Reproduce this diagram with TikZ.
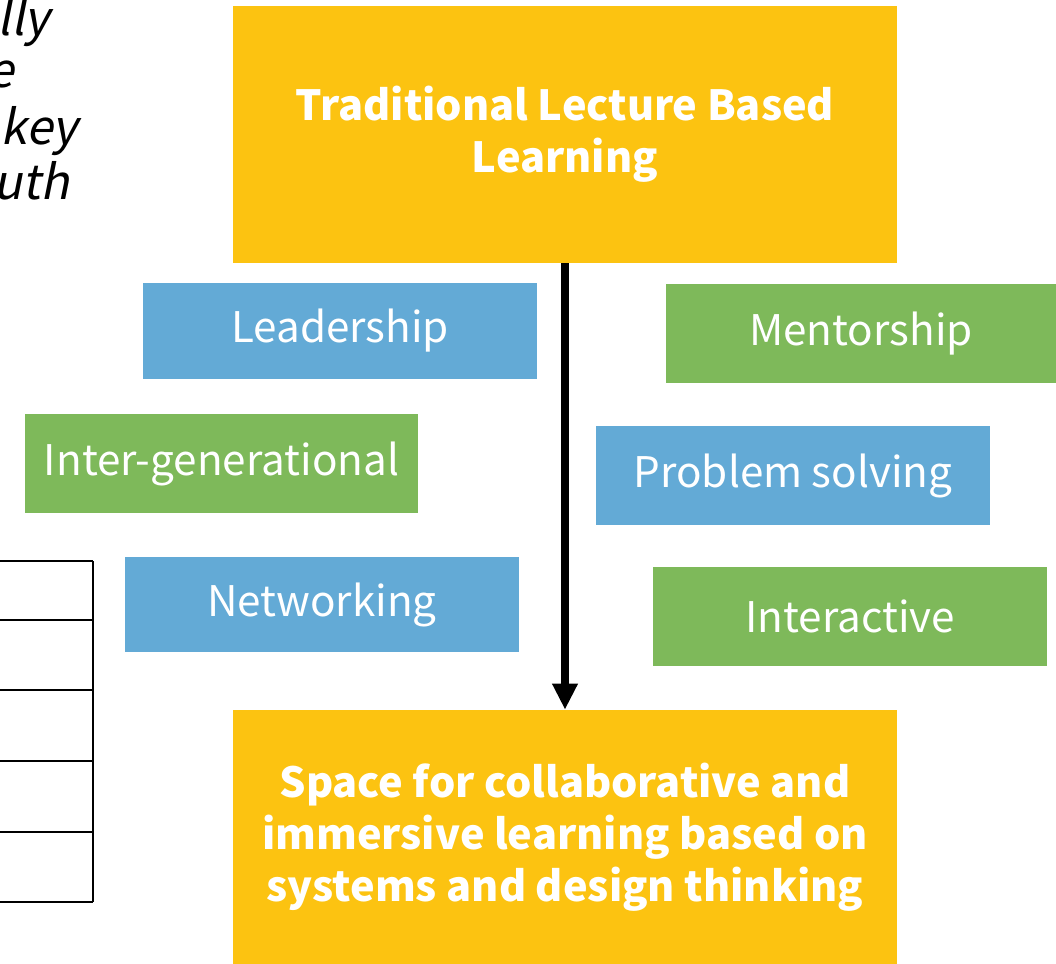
\documentclass[tikz,border=0pt]{standalone}
\usepackage{fontspec}
\setmainfont{Noto Sans CJK JP}
\newfontfamily\slantfont[FakeSlant=0.2]{Noto Sans CJK JP}
\usetikzlibrary{arrows.meta}
\definecolor{boxyellow}{RGB}{252,195,17}
\definecolor{boxblue}{RGB}{99,170,214}
\definecolor{boxgreen}{RGB}{126,185,90}
\tikzset{x=0.025cm, y=-0.025cm,
size/.style 2 args={ % box size in pixels
minimum width=#1*0.025cm,
minimum height=#2*0.025cm},
main/.style={ % the two yellow boxes
fill=boxyellow,
text=white,
align=center,
inner sep=0pt,
font=\fontsize{29.5}{37}\selectfont\bfseries},
tag/.style={ % blue and green labels
inner sep=0pt,
text=white,
font=\fontsize{30}{35}\selectfont},
note/.style={
anchor=base east,
inner sep=0pt,
font=\fontsize{34}{40}\selectfont\slantfont},
flow/.style={
-{Triangle[width=0.6cm,length=0.65cm]},
line width=5pt}}

\begin{document}
\begin{tikzpicture}
\useasboundingbox (0,0) rectangle (1056,964);
\clip (0,0) rectangle (1056,964);
% cut-off text on the left
\node[note] (n1) at (50,36) {lly};
\node[note] (n2) at (14,88) {e};
\node[note] (n3) at (78,145) {key};
\node[note] (n4) at (70,200) {uth};
% cut-off table on the left
\foreach \y in {561,620,690,761,832,902}
  \draw[line width=1.8pt] (-10,\y) -- (93,\y);
\draw[line width=1.8pt] (93,561) -- (93,902);
% main boxes
\node[main, size={664}{257}] (lecture) at (565,134.5) {Traditional Lecture Based\\Learning};
\node[main, size={664}{254}] (space) at (565,837) {Space for collaborative and\\immersive learning based on\\systems and design thinking};
% labels
\node[tag, fill=boxblue, size={394}{96}] (lead) at (340,331) {Leadership};
\node[tag, fill=boxgreen, size={390}{99}] (ment) at (861,333.5) {Mentorship};
\node[tag, fill=boxgreen, size={393}{99}] (inter) at (221.5,463.5) {Inter-generational};
\node[tag, fill=boxblue, size={394}{99}] (prob) at (793,475.5) {Problem solving};
\node[tag, fill=boxblue, size={394}{95}] (net) at (322,604.5) {Networking};
\node[tag, fill=boxgreen, size={394}{99}] (inta) at (850,616.5) {Interactive};
\draw[flow] (lecture) -- (space);
\end{tikzpicture}
\end{document}
